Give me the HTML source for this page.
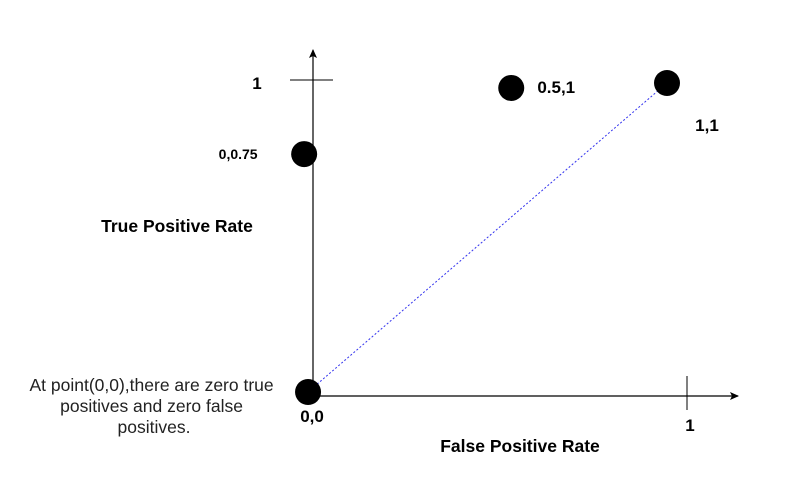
<!DOCTYPE html>
<html><head><meta charset="utf-8"><style>
html,body{margin:0;padding:0;background:#fff;}
svg{display:block;font-family:"Liberation Sans",Arial,sans-serif;}
</style></head><body>
<svg id="chart" width="796" height="496" viewBox="0 0 796 496">
<defs><marker id="arr" markerWidth="10" markerHeight="10" refX="8" refY="4" orient="auto" markerUnits="userSpaceOnUse"><path d="M0,0 L9,4 L0,8 L2,4 Z" fill="#000"/></marker></defs>
<line x1="313" y1="396" x2="313" y2="50" stroke="#000" stroke-width="1.2" marker-end="url(#arr)"/>
<line x1="313" y1="396" x2="738" y2="396" stroke="#000" stroke-width="1.2" marker-end="url(#arr)"/>
<line x1="290" y1="80" x2="333" y2="80" stroke="#000" stroke-width="1"/>
<line x1="687" y1="376" x2="687" y2="410" stroke="#000" stroke-width="1"/>
<g id="marks"></g>
<text x="257" y="89" font-size="17" font-weight="bold" text-anchor="middle">1</text>
<text x="690" y="431" font-size="17" font-weight="bold" text-anchor="middle">1</text>
<text x="177" y="232" font-size="17.5" font-weight="bold" text-anchor="middle">True Positive Rate</text>
<text x="520" y="452" font-size="17.5" font-weight="bold" text-anchor="middle">False Positive Rate</text>
<text font-size="17.5" fill="#222" text-anchor="middle">
<tspan x="154" y="391">At point(0,0),there are zero true</tspan>
<tspan x="154" y="412">positives and zero false</tspan>
<tspan x="154" y="433">positives.</tspan>
</text>
</svg>
<script>
const pointLabels = ["0,0", "0,0.75", "0.5,1", "1,1"];
const fprValues = [-0.014, -0.025, 0.56, 1.0];
const tprValues = [0.0, 0.77, 0.984, 1.0];
const labelDx = [4, -66, 45, 40];
const labelDy = [30, 5, 5, 48];
const labelSize = [17, 14, 17, 17];
const diagX = [0, 1];
const diagY = [0, 1];
const xs = v => 313 + v * 354;
const ys = v => 392 - v * 309;
const g = document.getElementById('marks');
const NS = 'http://www.w3.org/2000/svg';
const ln = document.createElementNS(NS, 'line');


ln.setAttribute('x1', xs(diagX[0]) - 5); ln.setAttribute('y1', ys(diagY[0]));
ln.setAttribute('x2', xs(diagX[1])); ln.setAttribute('y2', ys(diagY[1]));
ln.setAttribute('stroke', '#3333ee'); ln.setAttribute('stroke-width', '1'); ln.setAttribute('stroke-dasharray', '2,2');
g.appendChild(ln);
for (let i = 0; i < pointLabels.length; i++) {
  const cx = xs(fprValues[i]), cy = ys(tprValues[i]);
  const c = document.createElementNS(NS, 'circle');
  
  
  c.setAttribute('cx', cx); c.setAttribute('cy', cy); c.setAttribute('r', 13);
  c.setAttribute('fill', '#000');
  g.appendChild(c);
  const t = document.createElementNS(NS, 'text');
  
  
  t.setAttribute('x', cx + labelDx[i]); t.setAttribute('y', cy + labelDy[i]);
  t.setAttribute('font-size', labelSize[i]); t.setAttribute('font-weight', 'bold');
  t.setAttribute('text-anchor', 'middle');
  t.textContent = pointLabels[i];
  g.appendChild(t);
}
</script>
</body></html>
